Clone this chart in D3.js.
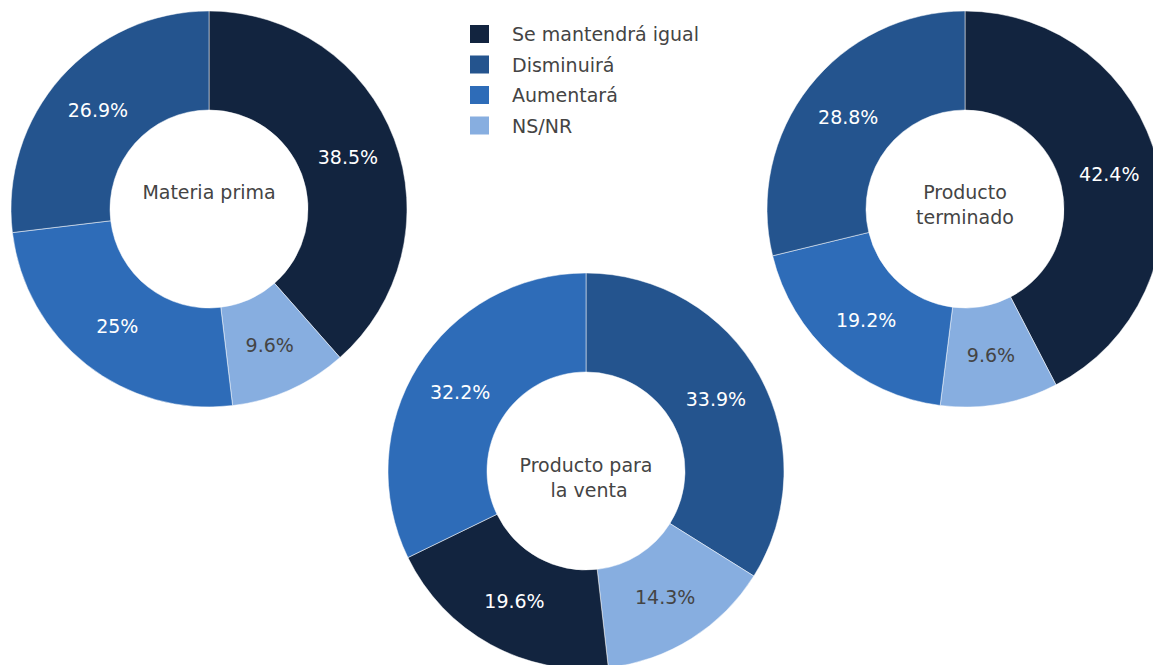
<!DOCTYPE html>
<html>
<head>
<meta charset="utf-8">
<script src="https://cdn.jsdelivr.net/npm/d3@7"></script>
<style>
  body { margin: 0; background: #fff; overflow: hidden; }
  svg { display: block; font-family: "DejaVu Sans", Verdana, sans-serif; }
</style>
</head>
<body>
<svg id="chart" width="1153" height="665"></svg>
<script>
"use strict";

// legend categories and their colours
const categories = ["Se mantendrá igual", "Disminuirá", "Aumentará", "NS/NR"];
const categoryColors = ["#12243f", "#24548e", "#2e6cb8", "#87aee0"];

// one pair of arrays per donut, slices in clockwise order from 12 o'clock
const materiaPrimaLabels = ["Se mantendrá igual", "NS/NR", "Aumentará", "Disminuirá"];
const materiaPrimaValues = [38.5, 9.6, 25, 26.9];

const productoVentaLabels = ["Disminuirá", "NS/NR", "Se mantendrá igual", "Aumentará"];
const productoVentaValues = [33.9, 14.3, 19.6, 32.2];

const productoTerminadoLabels = ["Se mantendrá igual", "NS/NR", "Aumentará", "Disminuirá"];
const productoTerminadoValues = [42.4, 9.6, 19.2, 28.8];

const pieTitles = [["Materia prima"], ["Producto para", " la venta"], ["Producto", "terminado"]];

// layout
const outerR = 198, innerR = 99, fontSize = 19;
const pies = [
  { labels: materiaPrimaLabels, values: materiaPrimaValues, title: pieTitles[0], cx: 209, cy: 209, titleY: [-17] },
  { labels: productoVentaLabels, values: productoVentaValues, title: pieTitles[1], cx: 586, cy: 471, titleY: [-6, 19] },
  { labels: productoTerminadoLabels, values: productoTerminadoValues, title: pieTitles[2], cx: 965, cy: 209, titleY: [-17, 8] }
];

const color = d3.scaleOrdinal(categories, categoryColors);
const svg = d3.select("#chart");

const pie = d3.pie().sort(null).value(d => d.value);
const arc = d3.arc().innerRadius(innerR).outerRadius(outerR);

pies.forEach(p => {
  const data = p.labels.map((l, i) => ({ label: l, value: p.values[i] }));
  const g = svg.append("g").attr("transform", "translate(" + p.cx + "," + p.cy + ")");

  // slices
  g.selectAll("path.slice")
    .data(pie(data))
    .enter()
    .append("path")
    .attr("class", "slice")
    .attr("d", arc)
    .attr("fill", d => color(d.data.label))
    .attr("stroke", "#fff")
    .attr("stroke-width", 0.5);

  // percentage labels at the slice centroid
  g.selectAll("text.pct")
    .data(pie(data))
    .enter()
    .append("text")
    .attr("class", "pct")
    .attr("transform", d => "translate(" + arc.centroid(d) + ")")
    .attr("text-anchor", "middle")
    .attr("dominant-baseline", "central")
    .attr("font-size", fontSize)
    .attr("fill", d => d.data.label === "NS/NR" ? "#444" : "#fff")
    .text(d => d.data.value + "%");

  // title in the hole
  const t = g.append("text")
    .attr("text-anchor", "middle")
    .attr("font-size", fontSize)
    .attr("fill", "#444")
    .style("white-space", "pre");
  p.title.forEach((line, i) => {
    t.append("tspan")
      .attr("x", 0)
      .attr("y", p.titleY[i])
      .attr("dominant-baseline", "central")
      .text(line);
  });
});

// legend
const legend = svg.append("g").attr("transform", "translate(470,34)");
const item = legend.selectAll("g")
  .data(categories)
  .enter()
  .append("g")
  .attr("transform", (d, i) => "translate(0," + i * 30.5 + ")");

item.append("rect")
  .attr("x", 0)
  .attr("y", -9)
  .attr("width", 19)
  .attr("height", 18)
  .attr("fill", d => color(d));

item.append("text")
  .attr("x", 42)
  .attr("y", 0)
  .attr("dominant-baseline", "central")
  .attr("font-size", fontSize)
  .attr("fill", "#444")
  .text(d => d);
</script>
</body>
</html>
